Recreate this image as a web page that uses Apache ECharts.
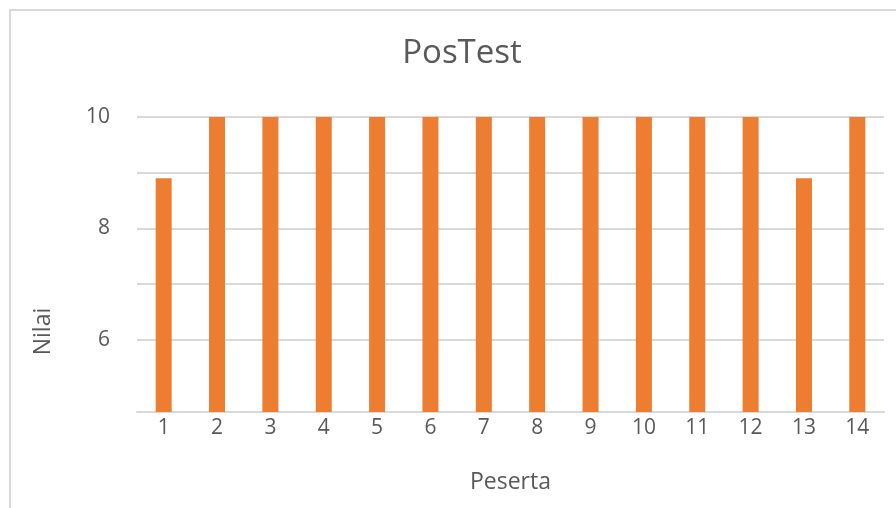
<!DOCTYPE html>
<html>
<head>
<meta charset="utf-8">
<script src="https://cdn.jsdelivr.net/npm/echarts@6/dist/echarts.min.js"></script>
<style>
  html, body { margin: 0; padding: 0; background: #fff; }
  #box { position: relative; width: 896px; height: 508px; }
  #chart { position: absolute; left: 0; top: 0; width: 896px; height: 508px; }
  #frame {
    position: absolute; left: 9px; top: 9px; right: 0; bottom: 0;
    border-left: 2px solid #d9d9d9; border-top: 2px solid #d9d9d9;
    pointer-events: none;
  }
</style>
</head>
<body>
<div id="box">
  <div id="chart"></div>
  <div id="frame"></div>
</div>
<script>
  // data
  var peserta = ['1', '2', '3', '4', '5', '6', '7', '8', '9', '10', '11', '12', '13', '14'];
  var nilai = [8.9, 10, 10, 10, 10, 10, 10, 10, 10, 10, 10, 10, 8.9, 10];
  var yLabels = [6, 8, 10];
  var yGridValues = [6, 7, 8, 9, 10];

  var textColor = '#595959';
  var lineColor = '#d9d9d9';
  var font = '"Open Sans", "DejaVu Sans", sans-serif';

  var myChart = echarts.init(document.getElementById('chart'));
  var option = {
    animation: false,
    title: {
      text: 'PosTest',
      left: 462,
      top: 37,
      padding: 0,
      textAlign: 'center',
      textStyle: { color: textColor, fontSize: 33, fontWeight: 'normal', fontFamily: font }
    },
    grid: {
      left: 137,
      right: 12,
      top: 117,
      bottom: 96
    },
    xAxis: {
      type: 'category',
      data: peserta,
      name: 'Peserta',
      nameLocation: 'middle',
      nameGap: 59,
      nameTextStyle: { color: textColor, fontSize: 23, fontFamily: font },
      axisLine: { show: true, lineStyle: { color: lineColor, width: 2 } },
      axisTick: { show: false },
      axisLabel: { color: textColor, fontSize: 21, fontFamily: font, margin: 6 }
    },
    yAxis: {
      type: 'value',
      min: 4.7,
      max: 10,
      name: 'Nilai',
      nameLocation: 'middle',
      nameGap: 82,
      nameTextStyle: { color: textColor, fontSize: 23, fontFamily: font, padding: [0, 134, 0, 0] },
      axisLine: { show: false },
      axisTick: { show: false, customValues: yGridValues },
      axisLabel: { color: textColor, fontSize: 21, fontFamily: font, margin: 27, customValues: yLabels },
      splitLine: { show: true, lineStyle: { color: lineColor, width: 2 } }
    },
    series: [
      {
        name: 'Nilai',
        type: 'bar',
        data: nilai,
        barWidth: '30%',
        itemStyle: { color: '#ED7D31' }
      }
    ]
  };
  myChart.setOption(option);
</script>
</body>
</html>
